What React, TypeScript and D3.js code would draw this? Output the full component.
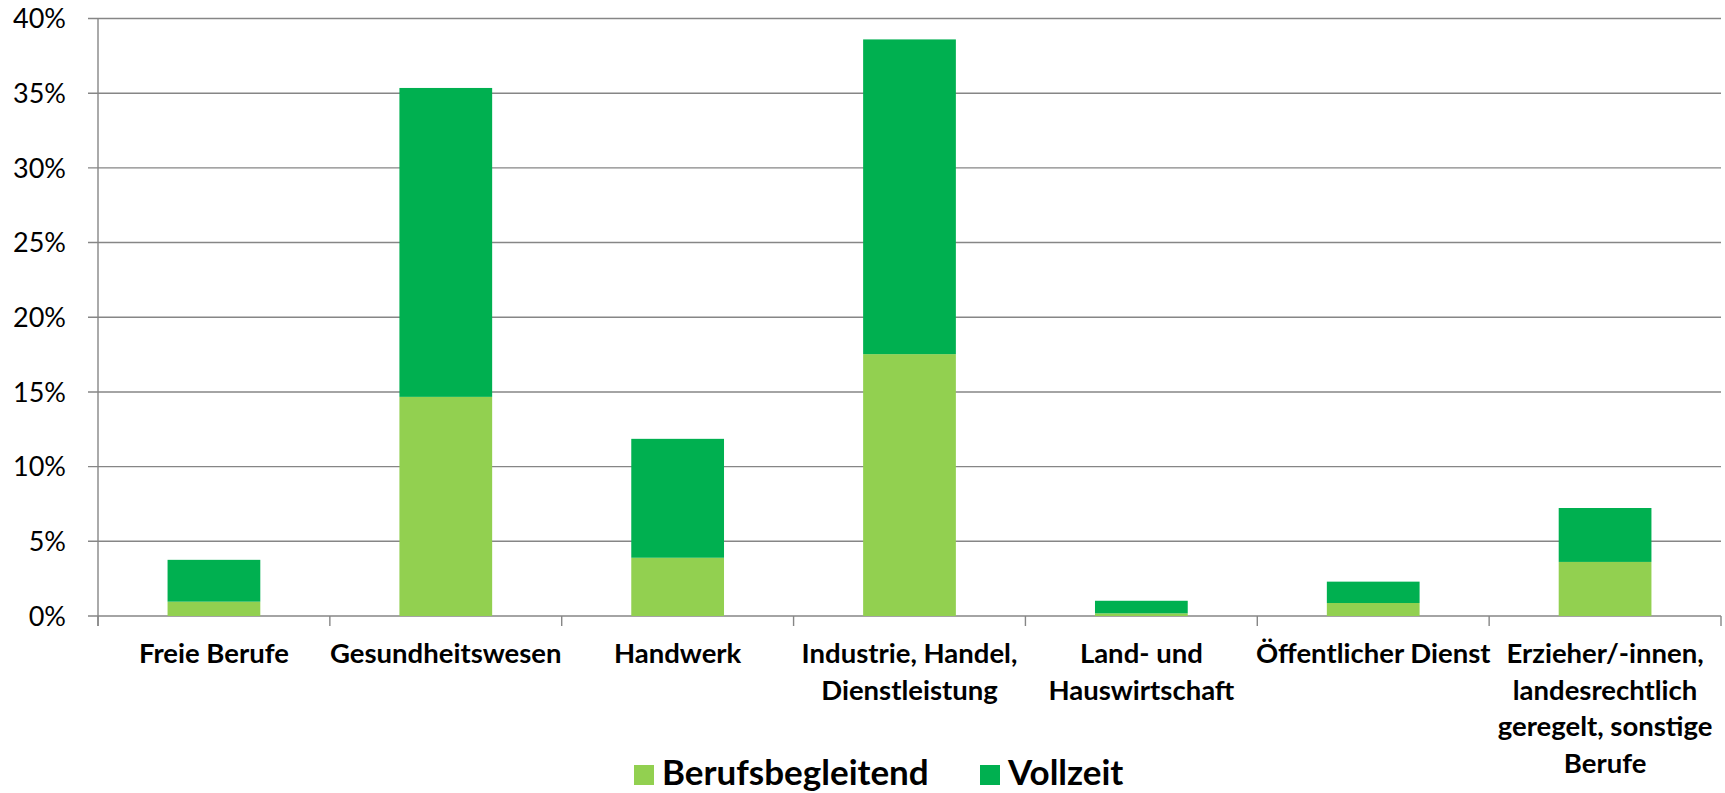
import React, { useEffect } from 'react';
import * as d3 from 'd3';

// categories (line breaks as in the original axis labels)
const categories = [
  'Freie Berufe',
  'Gesundheitswesen',
  'Handwerk',
  'Industrie, Handel,|Dienstleistung',
  'Land- und|Hauswirtschaft',
  'Öffentlicher Dienst',
  'Erzieher/-innen,|landesrechtlich|geregelt, sonstige|Berufe',
];

const berufsbegleitend = [0.96, 14.67, 3.9, 17.53, 0.18, 0.87, 3.62];
const vollzeit = [2.8, 20.68, 7.96, 21.07, 0.84, 1.43, 3.61];

const seriesNames = ['Berufsbegleitend', 'Vollzeit'];
const seriesColors = ['#92D050', '#00B050'];
const yTicks = [0, 5, 10, 15, 20, 25, 30, 35, 40];

const width = 1725;
const height = 793;
const margin = { top: 18.5, right: 4, bottom: 177, left: 98 };
const font = 'Lato, "Open Sans", sans-serif';

export default function App() {
  useEffect(() => {
    document.body.style.margin = '0';
  }, []);

  const innerBottom = height - margin.bottom;
  const xScale = d3
    .scaleBand()
    .domain(categories)
    .range([margin.left, width - margin.right])
    .paddingInner(0.6)
    .paddingOuter(0.3);
  const yScale = d3.scaleLinear().domain([0, 40]).range([innerBottom, margin.top]);
  const step = xScale.step();

  const table = categories.map((c, i) => ({
    cat: c,
    Berufsbegleitend: berufsbegleitend[i],
    Vollzeit: vollzeit[i],
  }));
  const stacked = d3.stack().keys(seriesNames)(table as any);

  const grid = '#868686';

  return (
    <svg width={width} height={height} style={{ display: 'block' }}>
      <rect width={width} height={height} fill="#fff" />
      {/* gridlines + y labels */}
      {yTicks.map((t) => (
        <g key={t}>
          <line
            x1={margin.left - 10}
            x2={width - margin.right}
            y1={yScale(t)}
            y2={yScale(t)}
            stroke={grid}
            strokeWidth={1.4}
          />
          <text
            x={margin.left - 32}
            y={yScale(t)}
            dy="0.36em"
            textAnchor="end"
            fontFamily={font}
            fontSize={27}
            fill="#000"
          >
            {`${t}%`}
          </text>
        </g>
      ))}
      {/* bars */}
      {stacked.map((layer, si) => (
        <g key={seriesNames[si]} fill={seriesColors[si]}>
          {layer.map((d, i) => (
            <rect
              key={categories[i]}
              x={xScale(categories[i])}
              y={yScale(d[1])}
              width={xScale.bandwidth()}
              height={yScale(d[0]) - yScale(d[1])}
            />
          ))}
        </g>
      ))}
      {/* axes */}
      <line x1={margin.left} x2={margin.left} y1={margin.top} y2={innerBottom + 10} stroke={grid} strokeWidth={1.4} />
      {d3.range(categories.length + 1).map((i) => (
        <line
          key={i}
          x1={margin.left + i * step}
          x2={margin.left + i * step}
          y1={innerBottom}
          y2={innerBottom + 10}
          stroke={grid}
          strokeWidth={1.4}
        />
      ))}
      {/* x labels */}
      {categories.map((c) => (
        <text
          key={c}
          x={(xScale(c) as number) + xScale.bandwidth() / 2}
          y={663}
          textAnchor="middle"
          fontFamily={font}
          fontWeight="bold"
          fontSize={27.5}
          fill="#000"
        >
          {c.split('|').map((line, li) => (
            <tspan key={li} x={(xScale(c) as number) + xScale.bandwidth() / 2} dy={li === 0 ? 0 : 36.5}>
              {line}
            </tspan>
          ))}
        </text>
      ))}
      {/* legend */}
      <g fontFamily={font} fontWeight="bold" fontSize={35}>
        <rect x={634} y={765} width={20} height={20} fill={seriesColors[0]} />
        <text x={662} y={785}>{seriesNames[0]}</text>
        <rect x={980} y={765} width={20} height={20} fill={seriesColors[1]} />
        <text x={1008} y={785}>{seriesNames[1]}</text>
      </g>
    </svg>
  );
}
